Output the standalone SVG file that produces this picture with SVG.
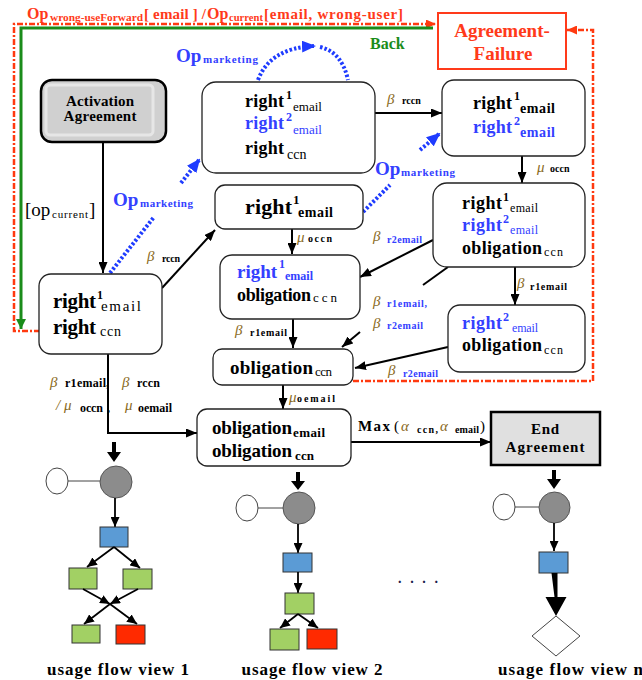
<svg xmlns="http://www.w3.org/2000/svg" width="642" height="680" viewBox="0 0 642 680">
<defs>
<style>
text{font-family:"Liberation Serif","Times New Roman",serif;font-weight:bold;fill:#000}
.node{fill:#fff;stroke:#222;stroke-width:1.3}
.bl{fill:#3340ff}
.rt{fill:#ff3a1a}
.gt{fill:#1a8c1a}
.gk{font-style:italic;font-weight:normal;fill:#8a6a1c;font-size:15px}
.ar{stroke:#000;stroke-width:2;fill:none;marker-end:url(#ah)}
.ars{stroke:#000;stroke-width:1.8;fill:none;marker-end:url(#ahs)}
.dot{stroke:#1f3cff;stroke-width:4;stroke-dasharray:2.5 2;fill:none}
.rd{stroke:#ff3a10;stroke-width:2.5;stroke-dasharray:6 2 2 2;fill:none}
.gray{fill:#8c8c8c;stroke:#555;stroke-width:1}
.wc{fill:#fff;stroke:#444;stroke-width:1}
.bx{fill:#5b9bd5;stroke:#333;stroke-width:1}
.gx{fill:#a2d064;stroke:#333;stroke-width:1}
.rx{fill:#ff2a00;stroke:#333;stroke-width:1}
</style>
<marker id="ah" markerUnits="userSpaceOnUse" markerWidth="11" markerHeight="9" refX="11" refY="4.5" orient="auto"><path d="M0,0L11,4.5L0,9z" fill="#000"/></marker>
<marker id="ahs" markerUnits="userSpaceOnUse" markerWidth="10" markerHeight="9" refX="10" refY="4.5" orient="auto"><path d="M0,0L10,4.5L0,9z" fill="#000"/></marker>
<marker id="ahb" markerUnits="userSpaceOnUse" markerWidth="14" markerHeight="12" refX="12" refY="6" orient="auto"><path d="M0,0L14,6L0,12z" fill="#1f3cff"/></marker>
<marker id="ahr" markerUnits="userSpaceOnUse" markerWidth="10" markerHeight="9" refX="10" refY="4.5" orient="auto"><path d="M0,0L10,4.5L0,9z" fill="#ff3a10"/></marker>
<marker id="ahg" markerUnits="userSpaceOnUse" markerWidth="10" markerHeight="10" refX="10" refY="5" orient="auto"><path d="M0,0L10,5L0,10z" fill="#1a8c1a"/></marker>
</defs>

<rect width="642" height="680" fill="#fff"/>

<!-- connectors -->
<g id="connectors">
  <path class="rd" d="M40,331 H14 V24 H436" marker-end="url(#ahr)"/>
  <path class="rd" d="M353,381 H593 V30 H567" marker-end="url(#ahr)"/>
  <path d="M433,28 H21 V329" stroke="#1a8c1a" stroke-width="3" fill="none" marker-end="url(#ahg)"/>
  <path class="ar" d="M103,142 V273"/>
  <path class="ar" d="M162,288 L215,230"/>
  <path class="ar" d="M375,113 H442"/>
  <path class="ar" d="M522,156 V183"/>
  <path class="ar" d="M515,267 V305"/>
  <path class="ar" d="M433,240 L360,277"/>
  <path d="M448,267 L423,285" stroke="#000" stroke-width="2" fill="none"/>
  <path class="ar" d="M360,332 L342,347"/>
  <path class="ar" d="M448,347 L355,368"/>
  <path class="ar" d="M292,229 V254"/>
  <path class="ar" d="M293,319 V348"/>
  <path class="ar" d="M283,385 V409"/>
  <path class="ar" d="M108,354 V433 H197" stroke-width="1.6"/>
  <path class="ar" d="M351,442 H491"/>
  <path class="dot" d="M110,273 L154,217"/>
  <path class="dot" d="M181,183 L199,160" marker-end="url(#ahb)"/>
  <path class="dot" d="M258,80 Q270,48 314,46" marker-end="url(#ahb)"/>
  <path class="dot" d="M320,47 Q342,52 348,80"/>
  <path class="dot" d="M360,215 L390,185"/>
  <path class="dot" d="M420,150 L439,134" marker-end="url(#ahb)"/>
</g>

<!-- top label -->
<g id="top-label" class="rt">
  <text x="27" y="19" font-size="16" class="rt">Op</text>
  <text x="50" y="21" font-size="10" class="rt" textLength="93" lengthAdjust="spacingAndGlyphs">wrong-useForward</text>
  <text x="144" y="19" font-size="15" class="rt" textLength="62" lengthAdjust="spacing">[ email ] /</text>
  <text x="207" y="19" font-size="16" class="rt">Op</text>
  <text x="229" y="21" font-size="10" class="rt" textLength="34" lengthAdjust="spacingAndGlyphs">current</text>
  <text x="264" y="19" font-size="15" class="rt" textLength="139" lengthAdjust="spacing">[email, wrong-user]</text>
</g>
<text x="370" y="49" font-size="16" class="gt">Back</text>

<!-- Agreement-Failure -->
<g id="n-failure">
  <rect x="438" y="13" width="128" height="56" fill="#fff" stroke="#ff3a1a" stroke-width="2"/>
  <text x="502" y="37" font-size="19" class="rt" text-anchor="middle">Agreement-</text>
  <text x="503" y="60" font-size="19" class="rt" text-anchor="middle">Failure</text>
</g>

<!-- Activation -->
<g id="n-activation">
  <rect x="41" y="80" width="125" height="62" rx="11" fill="#d0d0d0" stroke="#000" stroke-width="2.5"/>
  <rect x="46" y="85" width="107" height="50" rx="4" fill="none" stroke="#e6e6e6" stroke-width="3"/>
  <text x="100" y="106" font-size="15" text-anchor="middle" textLength="68" lengthAdjust="spacing">Activation</text>
  <text x="100" y="121" font-size="15" text-anchor="middle" textLength="73" lengthAdjust="spacing">Agreement</text>
</g>

<text x="25" y="216" font-size="19" style="font-weight:normal">[op</text>
<text x="52" y="218" font-size="11" style="font-weight:normal" textLength="36" lengthAdjust="spacing">current</text>
<text x="89" y="216" font-size="19" style="font-weight:normal">]</text>

<!-- Op_marketing labels -->
<g id="opm-labels" class="bl">
  <text x="176" y="62" font-size="19" class="bl">Op</text>
  <text x="203" y="63" font-size="11" class="bl" textLength="55" lengthAdjust="spacing">marketing</text>
  <text x="113" y="206" font-size="19" class="bl">Op</text>
  <text x="140" y="207" font-size="11" class="bl" textLength="53" lengthAdjust="spacing">marketing</text>
  <text x="375" y="175" font-size="19" class="bl">Op</text>
  <text x="401" y="176" font-size="11" class="bl" textLength="54" lengthAdjust="spacing">marketing</text>
</g>

<!-- left node -->
<g id="n-left">
  <rect class="node" x="39" y="274" width="123" height="80" rx="12"/>
  <text x="53" y="308" font-size="21" textLength="43" lengthAdjust="spacing">right</text>
  <text x="97" y="299" font-size="12">1</text>
  <text x="101" y="311" font-size="15" style="font-weight:normal" textLength="40" lengthAdjust="spacing">email</text>
  <text x="53" y="334" font-size="21" textLength="43" lengthAdjust="spacing">right</text>
  <text x="100" y="336" font-size="14" style="font-weight:normal" textLength="21" lengthAdjust="spacing">ccn</text>
</g>

<!-- top node -->
<g id="n-top">
  <rect class="node" x="202" y="82" width="173" height="91" rx="14"/>
  <text x="245" y="107" font-size="18" textLength="39" lengthAdjust="spacing">right</text>
  <text x="286" y="99" font-size="12">1</text>
  <text x="293" y="111" font-size="13" style="font-weight:normal">email</text>
  <text x="245" y="129" font-size="18" class="bl" textLength="39" lengthAdjust="spacing">right</text>
  <text x="286" y="121" font-size="12" class="bl">2</text>
  <text x="293" y="134" font-size="13" class="bl" style="font-weight:normal">email</text>
  <text x="245" y="154" font-size="18" textLength="39" lengthAdjust="spacing">right</text>
  <text x="287" y="159" font-size="14" style="font-weight:normal">ccn</text>
</g>

<!-- top right node -->
<g id="n-topright">
  <rect class="node" x="442" y="80" width="143" height="76" rx="12"/>
  <text x="473" y="109" font-size="18" textLength="39" lengthAdjust="spacing">right</text>
  <text x="514" y="100" font-size="12">1</text>
  <text x="520" y="113" font-size="14" textLength="35" lengthAdjust="spacing">email</text>
  <text x="473" y="133" font-size="18" class="bl" textLength="39" lengthAdjust="spacing">right</text>
  <text x="514" y="125" font-size="12" class="bl">2</text>
  <text x="520" y="137" font-size="14" class="bl" textLength="35" lengthAdjust="spacing">email</text>
</g>

<!-- R3 -->
<g id="n-r3">
  <rect class="node" x="433" y="183" width="152" height="84" rx="14"/>
  <text x="462" y="209" font-size="18" textLength="40" lengthAdjust="spacing">right</text>
  <text x="503" y="201" font-size="12">1</text>
  <text x="510" y="212" font-size="12" style="font-weight:normal" textLength="28" lengthAdjust="spacing">email</text>
  <text x="462" y="231" font-size="18" class="bl" textLength="40" lengthAdjust="spacing">right</text>
  <text x="503" y="223" font-size="12" class="bl">2</text>
  <text x="510" y="234" font-size="12" class="bl" style="font-weight:normal" textLength="28" lengthAdjust="spacing">email</text>
  <text x="462" y="254" font-size="18" textLength="80" lengthAdjust="spacing">obligation</text>
  <text x="544" y="256" font-size="12" style="font-weight:normal" textLength="19" lengthAdjust="spacing">ccn</text>
</g>

<!-- R4 -->
<g id="n-r4">
  <rect class="node" x="448" y="305" width="137" height="67" rx="12"/>
  <text x="462" y="329" font-size="18" class="bl" textLength="40" lengthAdjust="spacing">right</text>
  <text x="503" y="321" font-size="12" class="bl">2</text>
  <text x="512" y="332" font-size="12" class="bl" style="font-weight:normal" textLength="26" lengthAdjust="spacing">email</text>
  <text x="462" y="351" font-size="18" textLength="80" lengthAdjust="spacing">obligation</text>
  <text x="544" y="354" font-size="12" style="font-weight:normal" textLength="19" lengthAdjust="spacing">ccn</text>
</g>

<!-- M1 -->
<g id="n-m1">
  <rect class="node" x="215" y="185" width="148" height="44" rx="10"/>
  <text x="245" y="214" font-size="22" textLength="47" lengthAdjust="spacing">right</text>
  <text x="293" y="204" font-size="13">1</text>
  <text x="298" y="217" font-size="14" textLength="35" lengthAdjust="spacing">email</text>
</g>

<!-- M2 -->
<g id="n-m2">
  <rect class="node" x="220" y="255" width="140" height="64" rx="12"/>
  <text x="237" y="278" font-size="19" class="bl" textLength="40" lengthAdjust="spacing">right</text>
  <text x="279" y="268" font-size="12" class="bl">1</text>
  <text x="285" y="280" font-size="12" class="bl" textLength="28" lengthAdjust="spacing">email</text>
  <text x="237" y="301" font-size="18" textLength="74" lengthAdjust="spacing">obligation</text>
  <text x="313" y="302" font-size="13" style="font-weight:normal" textLength="24" lengthAdjust="spacing">ccn</text>
</g>

<!-- M3 -->
<g id="n-m3">
  <rect class="node" x="213" y="349" width="140" height="36" rx="9"/>
  <text x="230" y="374" font-size="19" textLength="83" lengthAdjust="spacing">obligation</text>
  <text x="315" y="376" font-size="13" style="font-weight:normal" textLength="17" lengthAdjust="spacing">ccn</text>
</g>

<!-- Bottom node -->
<g id="n-bottom">
  <rect class="node" x="197" y="409" width="154" height="57" rx="10"/>
  <text x="212" y="434" font-size="19" textLength="80" lengthAdjust="spacing">obligation</text>
  <text x="293" y="437" font-size="13" textLength="32" lengthAdjust="spacing">email</text>
  <text x="212" y="457" font-size="19" textLength="80" lengthAdjust="spacing">obligation</text>
  <text x="295" y="460" font-size="13" textLength="19" lengthAdjust="spacing">ccn</text>
</g>

<!-- End agreement -->
<g id="n-end">
  <rect x="491" y="412" width="109" height="53" fill="#e0e0e0" stroke="#000" stroke-width="2.5"/>
  <text x="545" y="434" font-size="15" text-anchor="middle" textLength="28" lengthAdjust="spacing">End</text>
  <text x="545" y="452" font-size="15" text-anchor="middle" textLength="79" lengthAdjust="spacing">Agreement</text>
</g>

<!-- edge labels -->
<g id="edge-labels">
  <text class="gk" x="387" y="104">β</text><text x="402" y="104" font-size="10">rccn</text>
  <text class="gk" x="537" y="172">μ</text><text x="550" y="172" font-size="10">occn</text>
  <text class="gk" x="373" y="241">β</text><text x="387" y="243" font-size="10" class="bl" textLength="35" lengthAdjust="spacing">r2email</text>
  <text class="gk" x="517" y="288">β</text><text x="530" y="290" font-size="10" textLength="37" lengthAdjust="spacing">r1email</text>
  <text class="gk" x="373" y="306">β</text><text x="387" y="307" font-size="10" class="bl" textLength="40" lengthAdjust="spacing">r1email,</text>
  <text class="gk" x="373" y="328">β</text><text x="387" y="329" font-size="10" class="bl" textLength="36" lengthAdjust="spacing">r2email</text>
  <text class="gk" x="388" y="375">β</text><text x="403" y="377" font-size="10" class="bl" textLength="35" lengthAdjust="spacing">r2email</text>
  <text class="gk" x="147" y="261">β</text><text x="162" y="262" font-size="10" textLength="18" lengthAdjust="spacing">rccn</text>
  <text class="gk" x="297" y="242" font-size="13">μ</text><text x="308" y="242" font-size="10" textLength="24" lengthAdjust="spacing">occn</text>
  <text class="gk" x="235" y="335">β</text><text x="250" y="336" font-size="10" textLength="37" lengthAdjust="spacing">r1email</text>
  <text class="gk" x="289" y="402" font-size="13">μ</text><text x="297" y="402" font-size="10" textLength="38" lengthAdjust="spacing">oemail</text>
  <text class="gk" x="50" y="387">β</text><text x="65" y="387" font-size="12" textLength="41" lengthAdjust="spacing">r1email</text><text x="106" y="387" font-size="12">,</text>
  <text class="gk" x="122" y="387">β</text><text x="137" y="387" font-size="12" textLength="23" lengthAdjust="spacing">rccn</text>
  <text class="gk" x="56" y="410">/ μ</text><text x="80" y="412" font-size="12" textLength="23" lengthAdjust="spacing">occn</text><text x="107" y="412" font-size="12">,</text>
  <text class="gk" x="125" y="410">μ</text><text x="138" y="412" font-size="12" textLength="34" lengthAdjust="spacing">oemail</text>
  <text x="358" y="431" font-size="15" textLength="32" lengthAdjust="spacing">Max</text>
  <text x="394" y="431" font-size="15" style="font-weight:normal">(</text>
  <text class="gk" x="401" y="431">α</text><text x="417" y="433" font-size="10" textLength="21" lengthAdjust="spacing">ccn,</text>
  <text class="gk" x="440" y="431">α</text><text x="455" y="433" font-size="10" textLength="24" lengthAdjust="spacing">email</text>
  <text x="480" y="431" font-size="15" style="font-weight:normal">)</text>
</g>

<!-- usage flow view 1 -->
<g id="flow1">
  <path d="M112,442 h4 v10 h5 l-7,10 l-7,-10 h5 z" fill="#000"/>
  <line x1="68" y1="481" x2="100" y2="481" stroke="#444"/>
  <ellipse class="wc" cx="57" cy="481" rx="11" ry="13"/>
  <circle class="gray" cx="116" cy="482" r="16"/>
  <path class="ars" d="M115,498 V527" stroke-width="2.5"/>
  <rect class="bx" x="100" y="527" width="28" height="20"/>
  <path class="ars" d="M114,547 L87,567"/>
  <path class="ars" d="M114,547 L140,568"/>
  <rect class="gx" x="69" y="568" width="28" height="21"/>
  <rect class="gx" x="123" y="569" width="29" height="20"/>
  <path class="ars" d="M83,589 L110,604"/>
  <path class="ars" d="M138,589 L110,604"/>
  <path class="ars" d="M110,604 L84,624"/>
  <path class="ars" d="M110,604 L137,624"/>
  <rect class="gx" x="72" y="625" width="28" height="18"/>
  <rect class="rx" x="116" y="625" width="29" height="19"/>
  <text x="118" y="675" font-size="17" text-anchor="middle" textLength="142" lengthAdjust="spacing">usage flow view 1</text>
</g>

<!-- usage flow view 2 -->
<g id="flow2">
  <path d="M296,472 h4 v9 h5 l-7,9 l-7,-9 h5 z" fill="#000"/>
  <line x1="258" y1="508" x2="283" y2="508" stroke="#444"/>
  <ellipse class="wc" cx="247" cy="508" rx="11" ry="13"/>
  <circle class="gray" cx="299" cy="508" r="16"/>
  <path class="ars" d="M298,524 V553"/>
  <rect class="bx" x="283" y="553" width="29" height="19"/>
  <path class="ars" d="M298,572 V593"/>
  <rect class="gx" x="285" y="593" width="29" height="21"/>
  <path class="ars" d="M298,614 L280,628"/>
  <path class="ars" d="M298,614 L318,628"/>
  <rect class="gx" x="270" y="629" width="29" height="21"/>
  <rect class="rx" x="307" y="629" width="30" height="20"/>
  <text x="312" y="675" font-size="17" text-anchor="middle" textLength="141" lengthAdjust="spacing">usage flow view 2</text>
</g>

<text x="398" y="583" font-size="14" style="fill:#1a1a4a" textLength="40" lengthAdjust="spacing">. . . .</text>

<!-- usage flow view n -->
<g id="flown">
  <path d="M552,470 h4 v9 h5 l-7,10 l-7,-10 h5 z" fill="#000"/>
  <line x1="515" y1="507" x2="539" y2="507" stroke="#444"/>
  <ellipse class="wc" cx="504" cy="507" rx="11" ry="13"/>
  <circle class="gray" cx="554.5" cy="507.5" r="15.5"/>
  <path class="ars" d="M554,523 V551"/>
  <rect class="bx" x="539" y="552" width="29" height="21"/>
  <path d="M551.5,573 h6 v24 h9 l-10.5,19 l-10.5,-19 h9 z" fill="#000"/>
  <polygon points="556,616 580,636 556,656 532,636" fill="#fff" stroke="#444" stroke-width="1"/>
  <text x="498" y="675" font-size="17" textLength="145" lengthAdjust="spacing">usage flow view n</text>
</g>
</svg>
